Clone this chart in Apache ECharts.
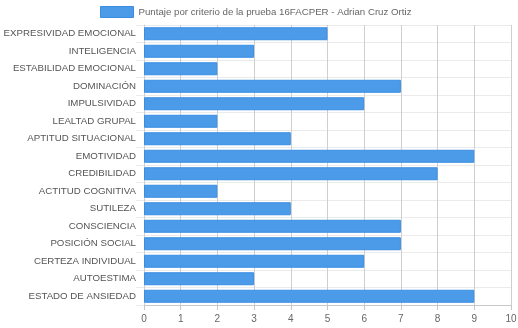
<!DOCTYPE html>
<html><head><meta charset="utf-8">
<script src="https://cdn.jsdelivr.net/npm/echarts@6/dist/echarts.min.js"></script>
<style>html,body{margin:0;padding:0;background:#fff}#c{width:518px;height:328px}</style>
</head><body><div id="c"></div>
<script>
const categories = ["EXPRESIVIDAD EMOCIONAL","INTELIGENCIA","ESTABILIDAD EMOCIONAL","DOMINACIÓN","IMPULSIVIDAD","LEALTAD GRUPAL","APTITUD SITUACIONAL","EMOTIVIDAD","CREDIBILIDAD","ACTITUD COGNITIVA","SUTILEZA","CONSCIENCIA","POSICIÓN SOCIAL","CERTEZA INDIVIDUAL","AUTOESTIMA","ESTADO DE ANSIEDAD"];
const scores = [5,3,2,7,6,2,4,9,8,2,4,7,7,6,3,9];
const seriesName = "Puntaje por criterio de la prueba 16FACPER - Adrian Cruz Ortiz";
const xMin = 0, xMax = 10, xStep = 1;

const chart = echarts.init(document.getElementById('c'), null, {renderer:'canvas'});
chart.setOption({
  animation:false,
  textStyle:{fontFamily:'Liberation Sans, Arial, sans-serif'},
  legend:{
    top:1, left:95, itemWidth:33, itemHeight:11, itemGap:5,
    textStyle:{color:'#666', fontSize:9.7},
    data:[{name:seriesName, icon:'rect', itemStyle:{borderColor:'#3a8de3', borderWidth:1}}]
  },
  grid:{left:144, right:7, top:25, bottom:23, containLabel:false, outerBoundsMode:'none'},
  xAxis:{
    type:'value', min:xMin, max:xMax, interval:xStep,
    axisLine:{show:true, lineStyle:{color:'#c8c8c8'}},
    axisTick:{show:true, length:5, lineStyle:{color:'#c8c8c8'}},
    axisLabel:{color:'#666', fontSize:10, margin:9},
    splitLine:{show:true, lineStyle:{color:'#cfcfcf'}}
  },
  yAxis:{
    type:'category', data:categories, inverse:true,
    axisLine:{show:true, lineStyle:{color:'#d0d0d0'}},
    axisTick:{show:true, length:8, lineStyle:{color:'#ebebeb'}},
    axisLabel:{color:'#555', fontSize:9.7, margin:8},
    splitLine:{show:true, lineStyle:{color:'#ebebeb'}}
  },
  series:[{
    name:seriesName, type:'bar', data:scores, barWidth:13,
    itemStyle:{color:'#4b9be8', borderColor:'#3a8de3', borderWidth:1}
  }]
});
</script></body></html>
